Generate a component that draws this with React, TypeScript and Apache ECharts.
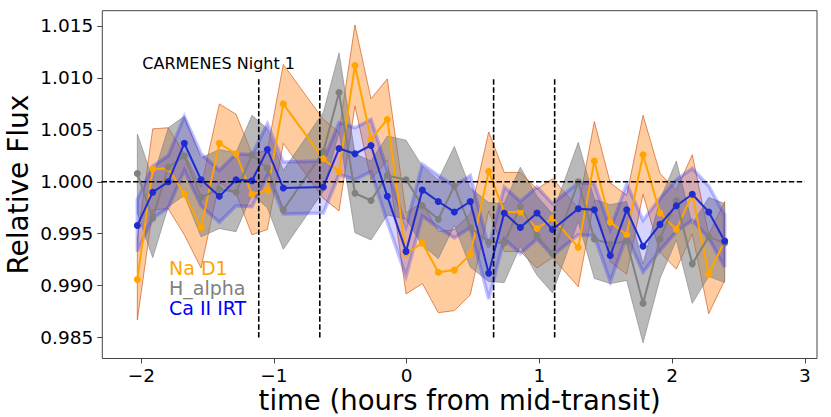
import React, { useEffect, useRef } from "react";
import * as echarts from "echarts";

const times = [-2.03, -1.914, -1.797, -1.676, -1.55, -1.412, -1.286, -1.166, -1.05, -0.93, -0.628, -0.51, -0.39, -0.269, -0.146, -0.005, 0.118, 0.238, 0.359, 0.479, 0.618, 0.735, 0.856, 0.982, 1.099, 1.293, 1.414, 1.534, 1.658, 1.781, 1.909, 2.032, 2.152, 2.276, 2.396];

const naD1 = [0.9906, 1.0012, 1.0013, 0.9988, 0.9956, 1.0037, 1.0027, 0.9988, 0.9992, 1.0075, 1.0022, 1.001, 1.0112, 1.0041, 1.006, 0.9931, 0.9941, 0.9913, 0.9915, 0.993, 1.001, 0.9971, 0.9971, 0.9955, 0.9965, 0.9937, 1.002, 0.9961, 0.9949, 1.0026, 0.997, 0.9954, 0.9988, 0.9911, 0.9943];
const naD1Err = [0.0039, 0.0039, 0.0039, 0.0039, 0.0039, 0.0038, 0.0038, 0.0039, 0.0038, 0.0038, 0.0038, 0.0038, 0.0039, 0.0039, 0.0039, 0.0039, 0.0039, 0.0039, 0.0039, 0.0039, 0.0038, 0.0038, 0.0038, 0.0038, 0.0038, 0.0038, 0.0038, 0.0038, 0.0038, 0.0038, 0.0038, 0.0038, 0.0038, 0.0038, 0.0038];

const hAlpha = [1.0008, 0.9965, 1.0014, 1.0025, 0.9985, 0.9993, 0.999, 1.0026, 1.0013, 0.9973, 1.0029, 1.0086, 0.9989, 0.9982, 1.0006, 1.0002, 0.9977, 0.9964, 0.9996, 0.9956, 0.9942, 0.9941, 0.9976, 0.9948, 0.9931, 1.0, 0.9945, 0.994, 0.9943, 0.9883, 0.9945, 0.9982, 0.9921, 0.9947, 0.9941];
const hAlphaErr = [0.0038, 0.0038, 0.0038, 0.0038, 0.0038, 0.0038, 0.0038, 0.0038, 0.0038, 0.0038, 0.0038, 0.0038, 0.0038, 0.0038, 0.0038, 0.0038, 0.0038, 0.0038, 0.0038, 0.0038, 0.0038, 0.0038, 0.0038, 0.0038, 0.0038, 0.0038, 0.0038, 0.0038, 0.0038, 0.0038, 0.0038, 0.0038, 0.0038, 0.0038, 0.0038];

const caIRT = [0.9958, 0.999, 1.0, 1.0037, 1.0002, 0.9986, 1.0002, 1.0001, 1.0031, 0.9994, 0.9995, 1.0032, 1.0027, 1.0035, 0.9986, 0.9933, 0.9992, 0.9981, 0.9971, 0.9981, 0.9912, 0.997, 0.9956, 0.997, 0.9954, 0.9974, 0.9973, 0.9929, 0.9973, 0.9938, 0.9959, 0.9977, 0.9988, 0.9971, 0.9943];
const caIRTErr = [0.0025, 0.0025, 0.0025, 0.0026, 0.0025, 0.0025, 0.0025, 0.0025, 0.0025, 0.0025, 0.0025, 0.0025, 0.0025, 0.0025, 0.0025, 0.0024, 0.0025, 0.0025, 0.0025, 0.0025, 0.0025, 0.0025, 0.0025, 0.0025, 0.0025, 0.0025, 0.0025, 0.0025, 0.0025, 0.0025, 0.0025, 0.0025, 0.0025, 0.0025, 0.0025];

const contactTimes = [-1.115, -0.655, 0.655, 1.115];
const contactRange = [0.985, 1.01];
const refLevel = 1.0;
const refRange = [-2.3, 3.0];

const xTicks = [-2, -1, 0, 1, 2, 3];
const yTicks = [0.985, 0.99, 0.995, 1.0, 1.005, 1.01, 1.015];

const seriesNames = ["Na D1", "H_alpha", "Ca II IRT"];
const FONT = "DejaVu Sans";

function band(name: string, vals: number[], errs: number[], fill: string, stroke: string, lw: number) {
  return {
    type: "custom",
    name: name + " band",
    silent: true,
    clip: true,
    data: [[times[0], vals[0]]],
    renderItem: (params: any, api: any) => {
      const up = times.map((t, i) => api.coord([t, vals[i] + errs[i]]));
      const lo = times.map((t, i) => api.coord([t, vals[i] - errs[i]])).reverse();
      return {
        type: "polygon",
        shape: { points: up.concat(lo) },
        style: { fill, stroke, lineWidth: lw, lineJoin: "miter" },
      };
    },
  };
}

function line(name: string, vals: number[], color: string) {
  return {
    type: "line",
    name,
    data: times.map((t, i) => [t, vals[i]]),
    symbol: "circle",
    symbolSize: 7,
    showSymbol: true,
    lineStyle: { color, width: 2 },
    itemStyle: { color, borderWidth: 0 },
  };
}

export default function App() {
  const ref = useRef<HTMLDivElement>(null);
  useEffect(() => {
    if (!ref.current) return;
    const chart = echarts.init(ref.current, null, { renderer: "svg" });
    const dashStyle = { color: "#000", width: 1.6, type: [5.5, 2.4] as any };
    const option: any = {
      animation: false,
      backgroundColor: "#fff",
      grid: {
        left: 102.3,
        top: 10.7,
        right: 14,
        bottom: 58.5,
        containLabel: false,
        outerBoundsMode: "none",
        show: true,
        borderColor: "#444",
        borderWidth: 1,
        backgroundColor: "transparent",
      },
      xAxis: {
        type: "value",
        min: -2.294,
        max: 3.092,
        name: "time (hours from mid-transit)",
        nameLocation: "middle",
        nameGap: 27,
        nameMoveOverlap: false,
        nameTextStyle: { fontFamily: FONT, fontSize: 27.5, lineHeight: 28, color: "#000" },
        axisLine: { show: false, onZero: false },
        splitLine: { show: false },
        axisTick: { show: true, length: 5, lineStyle: { color: "#444" }, customValues: xTicks },
        axisLabel: {
          fontFamily: FONT,
          fontSize: 18.5,
          color: "#000",
          margin: 7,
          customValues: xTicks,
          formatter: (v: number) => (v < 0 ? "\u2212" + Math.abs(v) : String(v)),
        },
      },
      yAxis: {
        type: "value",
        min: 0.98299,
        max: 1.01647,
        name: "Relative Flux",
        nameLocation: "middle",
        nameGap: 70,
        nameMoveOverlap: false,
        nameRotate: 90,
        nameTextStyle: { fontFamily: FONT, fontSize: 28, lineHeight: 28, color: "#000" },
        axisLine: { show: false, onZero: false },
        splitLine: { show: false },
        axisTick: { show: true, length: 5, lineStyle: { color: "#444" }, customValues: yTicks },
        axisLabel: {
          fontFamily: FONT,
          fontSize: 18.5,
          color: "#000",
          margin: 9,
          customValues: yTicks,
          formatter: (v: number) => v.toFixed(3),
        },
      },
      series: [
        band(seriesNames[0], naD1, naD1Err, "rgba(255,127,14,0.4)", "rgba(205,85,25,0.65)", 1),
        band(seriesNames[1], hAlpha, hAlphaErr, "rgba(128,128,128,0.55)", "rgba(128,128,128,0.6)", 1),
        band(seriesNames[2], caIRT, caIRTErr, "rgba(40,40,255,0.2)", "rgba(40,40,255,0.28)", 3.5),
        line(seriesNames[0], naD1, "#ffa500"),
        line(seriesNames[1], hAlpha, "#808080"),
        line(seriesNames[2], caIRT, "#1f2ccf"),
        {
          type: "line",
          name: "ref",
          silent: true,
          symbol: "none",
          data: [[refRange[0], refLevel], [refRange[1], refLevel]],
          lineStyle: dashStyle,
          z: 5,
        },
        ...contactTimes.map((t) => ({
          type: "line",
          name: "contact",
          silent: true,
          symbol: "none",
          data: [[t, contactRange[0]], [t, contactRange[1]]],
          lineStyle: dashStyle,
          z: 5,
        })),
      ],
      graphic: [
        {
          type: "text",
          left: 142.3,
          top: 55,
          style: { text: "CARMENES Night 1", fontFamily: FONT, fontSize: 16, fill: "#000" },
        },
        {
          type: "text",
          left: 169,
          top: 258,
          style: {
            text: `{a|${seriesNames[0]}}\n{b|${seriesNames[1]}}\n{c|${seriesNames[2]}}`,
            fontFamily: FONT,
            fontSize: 19,
            lineHeight: 20,
            rich: {
              a: { fontFamily: FONT, fontSize: 19, lineHeight: 20, fill: "#ffa500", color: "#ffa500" },
              b: { fontFamily: FONT, fontSize: 19, lineHeight: 20, fill: "#808080", color: "#808080" },
              c: { fontFamily: FONT, fontSize: 19, lineHeight: 20, fill: "#0000ff", color: "#0000ff" },
            },
          },
        },
      ],
    };
    chart.setOption(option);
    return () => chart.dispose();
  }, []);
  return (
    <div
      ref={ref}
      style={{ position: "fixed", left: 0, top: 0, width: 831, height: 417, background: "#fff" }}
    />
  );
}
